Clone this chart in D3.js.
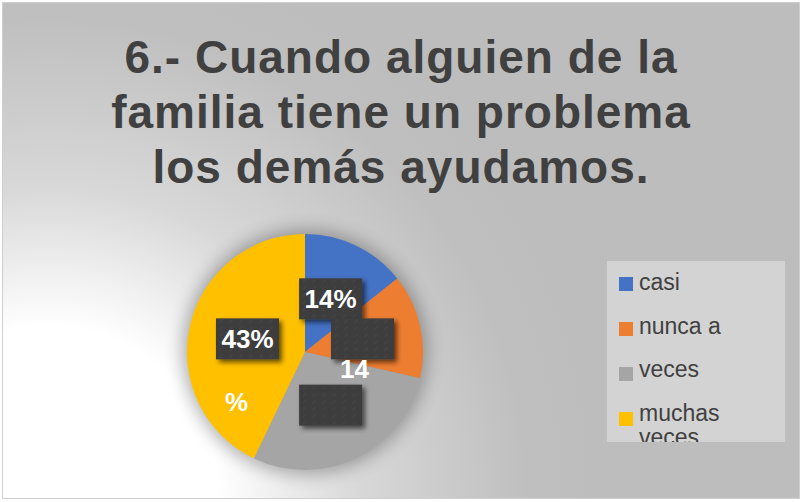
<!DOCTYPE html>
<html>
<head>
<meta charset="utf-8">
<script src="https://cdn.jsdelivr.net/npm/d3@7"></script>
<style>
  body { margin: 0; background: #fff; }
  svg { display: block; font-family: "Liberation Sans", Arial, sans-serif; }
</style>
</head>
<body>
<div id="chart"></div>
<script>
// chart values
var titleLines = ["6.- Cuando alguien de la", "familia tiene un problema", "los demás ayudamos."];
var categories = ["casi", "nunca a", "veces", "muchas veces"];
var values     = [1, 1, 2, 3];
var colors     = ["#4472c4", "#ed7d31", "#a5a5a5", "#ffc000"];
var boxText    = ["14%", "", "", "43%"];
var strayText  = ["", "14", "", "%"];

var width = 803, height = 502;

var svg = d3.select("#chart").append("svg").attr("width", width).attr("height", height);
var defs = svg.append("defs");

var bg = defs.append("radialGradient").attr("id", "bg").attr("gradientUnits", "userSpaceOnUse")
    .attr("cx", 50).attr("cy", 495).attr("r", 560);
bg.append("stop").attr("offset", 0).attr("stop-color", "#ffffff");
bg.append("stop").attr("offset", 0.3).attr("stop-color", "#ffffff");
bg.append("stop").attr("offset", 0.55).attr("stop-color", "#d8d8d8");
bg.append("stop").attr("offset", 0.85).attr("stop-color", "#bfbfbf");
bg.append("stop").attr("offset", 1).attr("stop-color", "#bdbdbd");

var halo = defs.append("filter").attr("id", "halo").attr("x", "-30%").attr("y", "-30%").attr("width", "160%").attr("height", "160%");
halo.append("feGaussianBlur").attr("stdDeviation", 9);

var shadow = defs.append("filter").attr("id", "shadow").attr("x", "-20%").attr("y", "-20%").attr("width", "150%").attr("height", "160%");
shadow.append("feGaussianBlur").attr("in", "SourceAlpha").attr("stdDeviation", 2.5).attr("result", "b");
shadow.append("feOffset").attr("in", "b").attr("dx", 3).attr("dy", 3).attr("result", "o");
shadow.append("feComponentTransfer").attr("in", "o").attr("result", "s")
    .append("feFuncA").attr("type", "linear").attr("slope", 0.6);
var merge = shadow.append("feMerge");
merge.append("feMergeNode").attr("in", "s");
merge.append("feMergeNode").attr("in", "SourceGraphic");

var tex = defs.append("pattern").attr("id", "tex").attr("patternUnits", "userSpaceOnUse")
    .attr("width", 10).attr("height", 7);
tex.append("rect").attr("width", 10).attr("height", 7).attr("fill", "#3e3e3e");
tex.append("path").attr("d", "M2,5 L5,2").attr("stroke", "#474747").attr("stroke-width", 1);

svg.append("rect").attr("x", 2.5).attr("y", 2.5).attr("width", 797).attr("height", 496)
    .attr("fill", "url(#bg)").attr("stroke", "#cfcfcf").attr("stroke-width", 1);

// title
svg.append("g").selectAll("text").data(titleLines).enter().append("text")
    .attr("x", 401).attr("y", function(d, i){ return 73 + i * 55; })
    .attr("text-anchor", "middle").attr("font-size", 46).attr("font-weight", "bold")
    .attr("letter-spacing", 1)
    .attr("fill", "#404040").text(function(d){ return d; });

// pie
var cx = 305, cy = 352, r = 118;
var pie = d3.pie().sort(null).value(function(d){ return d; });
var arcs = pie(values);
var arc = d3.arc().innerRadius(0).outerRadius(r);

var g = svg.append("g").attr("transform", "translate(" + cx + "," + cy + ")");
g.append("circle").attr("r", r + 4).attr("fill", "#000").attr("opacity", 0.3).attr("filter", "url(#halo)");
g.selectAll("path.slice").data(arcs).enter().append("path").attr("class", "slice")
    .attr("d", arc).attr("fill", function(d, i){ return colors[i]; });

// data labels
var bw = 63, bh = 41;
var lab = g.selectAll("g.lab").data(arcs).enter().append("g").attr("class", "lab")
    .attr("transform", function(d){ var c = arc.centroid(d); return "translate(" + c[0] + "," + c[1] + ")"; });
lab.append("rect").attr("x", -bw / 2).attr("y", -bh / 2).attr("width", bw).attr("height", bh)
    .attr("fill", "url(#tex)").attr("filter", "url(#shadow)");
lab.append("text").attr("text-anchor", "middle").attr("y", 9).attr("font-size", 26).attr("font-weight", "bold")
    .attr("fill", "#fff").text(function(d, i){ return boxText[i]; });
lab.append("text").attr("text-anchor", "middle")
    .attr("x", function(d, i){ return i === 1 ? -8 : -11; })
    .attr("y", function(d, i){ return i === 1 ? 39 : 72; })
    .attr("font-size", 26).attr("font-weight", "bold")
    .attr("fill", "#fff").text(function(d, i){ return strayText[i]; });

// legend
defs.append("clipPath").attr("id", "legclip").append("rect")
    .attr("x", 607).attr("y", 261).attr("width", 178).attr("height", 181);
var leg = svg.append("g").attr("clip-path", "url(#legclip)");
leg.append("rect").attr("x", 607).attr("y", 261).attr("width", 178).attr("height", 181).attr("fill", "#d3d3d3");
var items = leg.selectAll("g.item").data(categories).enter().append("g").attr("class", "item");
items.append("rect").attr("x", 619).attr("y", function(d, i){ return 277 + i * 45; })
    .attr("width", 14).attr("height", 14).attr("fill", function(d, i){ return colors[i]; });
items.append("text").attr("x", 639).attr("y", function(d, i){ return 290 + i * 43.7; })
    .attr("font-size", 23).attr("fill", "#404040")
    .each(function(d){
        var t = d3.select(this);
        var words = d.split(" ");
        if (words.length > 1 && d.length > 8) {
            words.forEach(function(w, k){
                t.append("tspan").attr("x", 639).attr("dy", k === 0 ? 0 : 24).text(w);
            });
        } else {
            t.text(d);
        }
    });
</script>
</body>
</html>
